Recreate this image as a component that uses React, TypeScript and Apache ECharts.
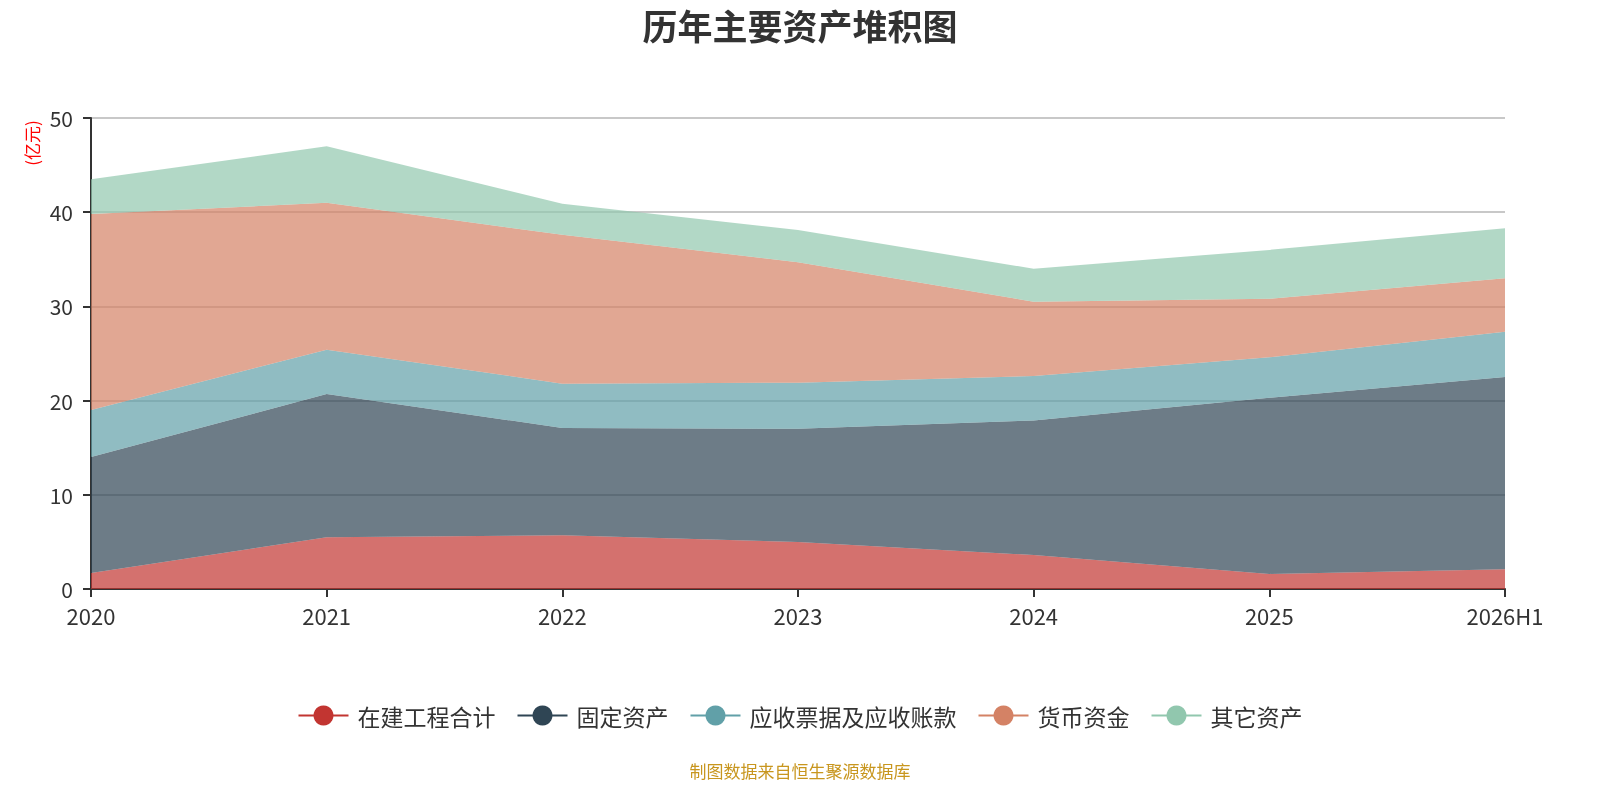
import { useRef, useEffect } from 'react';
import * as echarts from 'echarts';

const years = ['2020', '2021', '2022', '2023', '2024', '2025', '2026H1'];
const zaiJian = [1.7, 5.5, 5.7, 5.0, 3.6, 1.6, 2.1];
const guDing = [12.3, 15.2, 11.4, 12.0, 14.3, 18.7, 20.4];
const yingShou = [5.0, 4.7, 4.7, 4.9, 4.7, 4.3, 4.8];
const huoBi = [20.8, 15.6, 15.8, 12.8, 7.9, 6.2, 5.7];
const qiTa = [3.7, 6.0, 3.3, 3.4, 3.5, 5.2, 5.3];

const seriesNames = ['在建工程合计', '固定资产', '应收票据及应收账款', '货币资金', '其它资产'];
const seriesData = [zaiJian, guDing, yingShou, huoBi, qiTa];
const colors = ['#c23531', '#2f4554', '#61a0a8', '#d48265', '#91c7ae'];

const FONT = '"Noto Sans CJK SC", "Noto Sans", sans-serif';

const App = () => {
    const chartRef = useRef<HTMLDivElement>(null);

    useEffect(() => {
        if (!chartRef.current) return;
        const chart = echarts.init(chartRef.current, null, { renderer: 'svg' });
        chart.setOption({
            animation: false,
            color: colors,
            textStyle: { fontFamily: FONT },
            title: {
                text: '历年主要资产堆积图',
                left: 'center',
                top: 2,
                textStyle: { fontSize: 35, fontWeight: 'bold', color: '#333', fontFamily: FONT }
            },
            grid: { left: 91, right: 95, top: 118, bottom: 211 },
            legend: {
                bottom: 68,
                left: 'center',
                itemWidth: 50,
                itemHeight: 25,
                itemGap: 21,
                lineStyle: { width: 2 },
                textStyle: { fontSize: 23, color: '#333', fontFamily: FONT, padding: [0, 0, 0, 4] },
                data: seriesNames
            },
            graphic: [
                {
                    type: 'text',
                    x: 31,
                    y: 143,
                    rotation: Math.PI / 2,
                    style: {
                        text: '(亿元)',
                        fill: '#ff0000',
                        fontSize: 17,
                        fontFamily: FONT,
                        align: 'center',
                        verticalAlign: 'middle'
                    }
                },
                {
                    type: 'text',
                    left: 'center',
                    top: 762,
                    style: {
                        text: '制图数据来自恒生聚源数据库',
                        fill: '#c8961e',
                        fontSize: 17,
                        fontFamily: FONT
                    }
                }
            ],
            xAxis: {
                type: 'category',
                data: years,
                boundaryGap: false,
                axisLine: { lineStyle: { color: '#333', width: 2 } },
                axisTick: { show: true, length: 8, lineStyle: { color: '#333', width: 2 } },
                axisLabel: { fontSize: 22, color: '#333', margin: 15 }
            },
            yAxis: {
                type: 'value',
                min: 0,
                max: 50,
                interval: 10,
                axisLine: { show: true, lineStyle: { color: '#333', width: 2 } },
                axisTick: { show: true, length: 8, lineStyle: { color: '#333', width: 2 } },
                axisLabel: { fontSize: 21, color: '#333', margin: 18 },
                splitLine: { lineStyle: { color: '#c8c8c8', width: 2 } }
            },
            series: seriesNames.map((name, i) => ({
                name,
                type: 'line',
                stack: 'total',
                data: seriesData[i],
                showSymbol: false,
                symbol: 'circle',
                lineStyle: { width: 0 },
                areaStyle: { opacity: 0.7 }
            }))
        });
        return () => {
            chart.dispose();
        };
    }, []);

    return (
        <div
            ref={chartRef}
            style={{ position: 'fixed', left: 0, top: 0, width: 1600, height: 800 }}
        />
    );
};

export default App;
